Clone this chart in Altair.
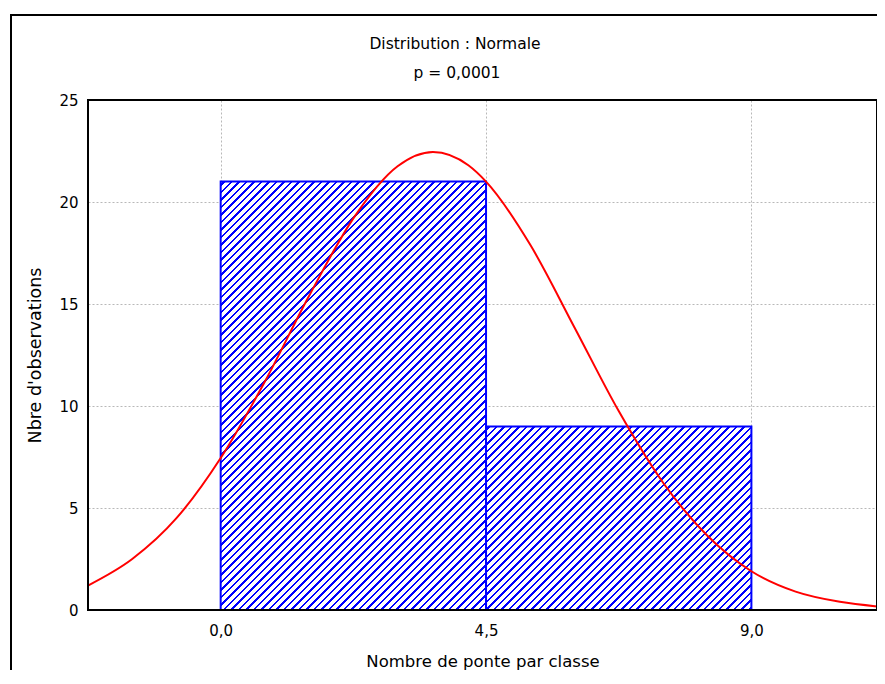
import altair as alt
import pandas as pd

# ---- data ----
bin_start = [0.0, 4.5]
bin_end = [4.5, 9.0]
counts = [21, 9]

curve_x = [-2.25, -1.5, -0.75, 0.0, 0.75, 1.5, 2.25, 3.0, 3.6, 4.2, 4.5,
           5.25, 6.0, 6.75, 7.5, 8.25, 9.0, 9.75, 10.5, 11.15]
curve_y = [1.2, 2.5, 4.5, 7.45, 11.2, 15.4, 19.2, 21.75, 22.45, 21.8, 21.0,
           17.9, 13.85, 9.75, 6.25, 3.65, 1.9, 0.9, 0.4, 0.17]

x_ticks = [0.0, 4.5, 9.0]
y_ticks = [0, 5, 10, 15, 20, 25]
x_domain = [-2.25, 11.13]
y_domain = [0, 25]

title_lines = ["Distribution : Normale", "p = 0,0001"]
x_title = "Nombre de ponte par classe"
y_title = "Nbre d'observations"

W, H = 789, 510
FONT = "DejaVu Sans"
BLUE = "#0000ff"

bars = pd.DataFrame({"start": bin_start, "end": bin_end, "count": counts})
curve = pd.DataFrame({"x": curve_x, "y": curve_y})
titles = pd.DataFrame({"text": title_lines})


def hatch(w, h, period=7.5, frac=0.32):
    """Diagonal '/' stripes as a sharp-stop linear gradient (bbox units)."""
    c = (w + h) * w / (w * w + h * h)   # makes the far corner land on offset 1
    span = w + h                          # (x + y) pixel span across the bar
    stops = [alt.GradientStop(color="white", offset=0)]
    s = period * (1 - frac) / 2
    while s < span:
        a = round(min(s / span, 1), 5)
        b = round(min((s + period * frac) / span, 1), 5)
        stops += [alt.GradientStop(color="white", offset=a),
                  alt.GradientStop(color=BLUE, offset=a),
                  alt.GradientStop(color=BLUE, offset=b),
                  alt.GradientStop(color="white", offset=b)]
        s += period
    return alt.LinearGradient(gradient="linear", stops=stops,
                              x1=0, y1=0, x2=c, y2=c * h / w)


xs = alt.Scale(domain=x_domain, nice=False, zero=False)
ys = alt.Scale(domain=y_domain, nice=False)

x_axis = alt.Axis(values=x_ticks, title=x_title,
                  labelExpr="replace(format(datum.value, '.1f'), '.', ',')",
                  labelPadding=13, titlePadding=15, titleFontSize=16.5)
y_axis = alt.Axis(values=y_ticks, title=y_title, format="d",
                  labelPadding=10, titlePadding=14, titleFontSize=17.5)

px_per_x = W / (x_domain[1] - x_domain[0])
px_per_y = H / (y_domain[1] - y_domain[0])

layers = []
for i in range(len(counts)):
    w = (bin_end[i] - bin_start[i]) * px_per_x
    h = counts[i] * px_per_y
    layers.append(
        alt.Chart(bars.iloc[[i]]).mark_rect(
            fill=hatch(w, h), stroke=BLUE, strokeWidth=2
        ).encode(
            x=alt.X("start:Q", scale=xs, axis=x_axis),
            x2="end:Q",
            y=alt.Y("count:Q", scale=ys, axis=y_axis),
            y2=alt.datum(0),
        )
    )

line = alt.Chart(curve).mark_line(
    color="#ff0000", strokeWidth=2, interpolate="monotone", clip=True
).encode(
    x=alt.X("x:Q", scale=xs, axis=x_axis),
    y=alt.Y("y:Q", scale=ys, axis=y_axis),
)

one = pd.DataFrame({"k": [0]})
frame = alt.Chart(one).mark_rect(filled=False, stroke="black", strokeWidth=2).encode(
    x=alt.value(0), x2=alt.value(W), y=alt.value(0), y2=alt.value(H)
)
outer = alt.Chart(one).mark_rect(filled=False, stroke="black", strokeWidth=2).encode(
    x=alt.value(-77), x2=alt.value(W + 60), y=alt.value(-85), y2=alt.value(H + 120)
)

title1 = alt.Chart(titles.iloc[[0]]).mark_text(
    font=FONT, fontSize=15.5, color="black", align="center", baseline="middle"
).encode(text="text:N", x=alt.value(367), y=alt.value(-56))
title2 = alt.Chart(titles.iloc[[1]]).mark_text(
    font=FONT, fontSize=15.5, color="black", align="center", baseline="middle"
).encode(text="text:N", x=alt.value(369), y=alt.value(-27))

chart = alt.layer(*layers, line, frame, outer, title1, title2).properties(
    width=W, height=H,
    autosize=alt.AutoSizeParams(type="none"),
    padding={"left": 80, "top": 92, "right": 0, "bottom": 60},
).configure_view(
    stroke=None
).configure_axis(
    labelFont=FONT, labelFontSize=15, labelColor="black",
    titleFont=FONT, titleFontWeight="normal", titleColor="black",
    grid=True, gridColor="#b8b8b8", gridDash=[2, 2], gridWidth=1,
    ticks=False, domain=False,
)

chart.save("out.html", embed_options={"renderer": "svg", "actions": False})
